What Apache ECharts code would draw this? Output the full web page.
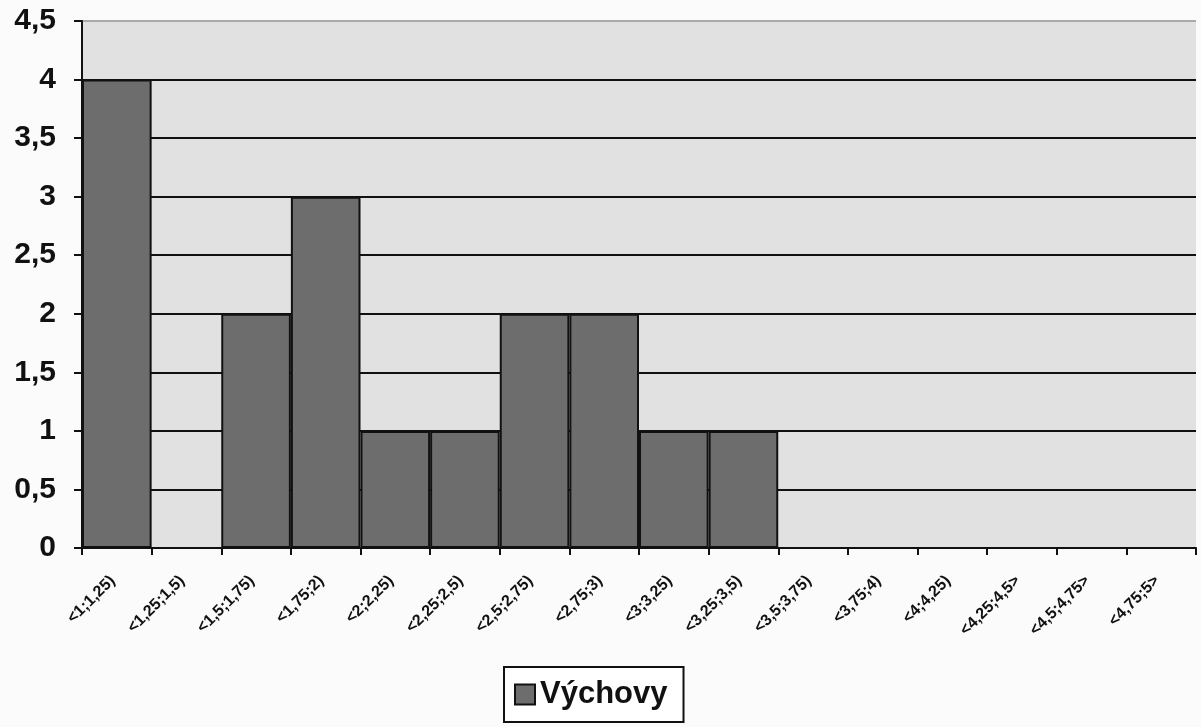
<!DOCTYPE html>
<html>
<head>
<meta charset="utf-8">
<script src="https://cdn.jsdelivr.net/npm/echarts@6/dist/echarts.min.js"></script>
<style>
  html, body { margin: 0; padding: 0; background: #fbfbfb; }
  #chart { width: 1201px; height: 727px; }
</style>
</head>
<body>
<div id="chart"></div>
<script>
// Interval classes of the distribution
const categories = ['<1;1,25)', '<1,25;1,5)', '<1,5;1,75)', '<1,75;2)', '<2;2,25)', '<2,25;2,5)',
  '<2,5;2,75)', '<2,75;3)', '<3;3,25)', '<3,25;3,5)', '<3,5;3,75)', '<3,75;4)', '<4;4,25)',
  '<4,25;4,5>', '<4,5;4,75>', '<4,75;5>'];
// Frequencies per class
const vychovy = [4, 0, 2, 3, 1, 1, 2, 2, 1, 1, 0, 0, 0, 0, 0, 0];
const seriesName = 'Výchovy';

// Split lines at 0 … 4,5: black inside, light grey at the top border
const splitColors = ['#111', '#111', '#111', '#111', '#111', '#111', '#111', '#111', '#111', '#aaa'];

const chart = echarts.init(document.getElementById('chart'));
chart.setOption({
  animation: false,
  backgroundColor: '#fbfbfb',
  grid: {
    left: 82, right: 5, top: 21, bottom: 179,
    show: true, backgroundColor: '#e1e1e1', borderWidth: 0
  },
  legend: {
    data: [{ name: seriesName, icon: 'rect' }],
    bottom: 5,
    left: 504,
    itemWidth: 20, itemHeight: 20,
    padding: [12, 16, 12, 10],
    itemGap: 6,
    borderColor: '#111', borderWidth: 2,
    backgroundColor: '#ffffff',
    textStyle: { fontFamily: 'Liberation Sans, Arial', fontWeight: 'bold', fontSize: 31, color: '#111', padding: [0, 0, 0, 0] },
    itemStyle: { borderColor: '#111', borderWidth: 2 }
  },
  xAxis: {
    type: 'category',
    data: categories,
    boundaryGap: true,
    axisLine: { lineStyle: { color: '#111', width: 2 } },
    axisTick: { show: true, alignWithLabel: false, length: 7, lineStyle: { color: '#111', width: 2 } },
    axisLabel: {
      interval: 0, rotate: 45, margin: 26,
      padding: [0, 6, 0, 0],
      fontFamily: 'Liberation Sans, Arial', fontWeight: 'bold', fontSize: 16, color: '#111'
    },
    splitLine: { show: false }
  },
  yAxis: {
    type: 'value',
    min: 0, max: 4.5, interval: 0.5,
    axisLine: { show: true, lineStyle: { color: '#111', width: 2 } },
    axisTick: { show: true, length: 8, lineStyle: { color: '#111', width: 2 } },
    axisLabel: {
      margin: 26,
      fontFamily: 'Liberation Sans, Arial', fontWeight: 'bold', fontSize: 30, color: '#111',
      formatter: v => String(v).replace('.', ',')
    },
    splitLine: { show: true, lineStyle: { color: splitColors, width: 2 } }
  },
  series: [{
    name: seriesName,
    type: 'bar',
    data: vychovy,
    barCategoryGap: '0%',
    itemStyle: { color: '#6d6d6d', borderColor: '#111', borderWidth: 2 }
  }]
});
</script>
</body>
</html>
